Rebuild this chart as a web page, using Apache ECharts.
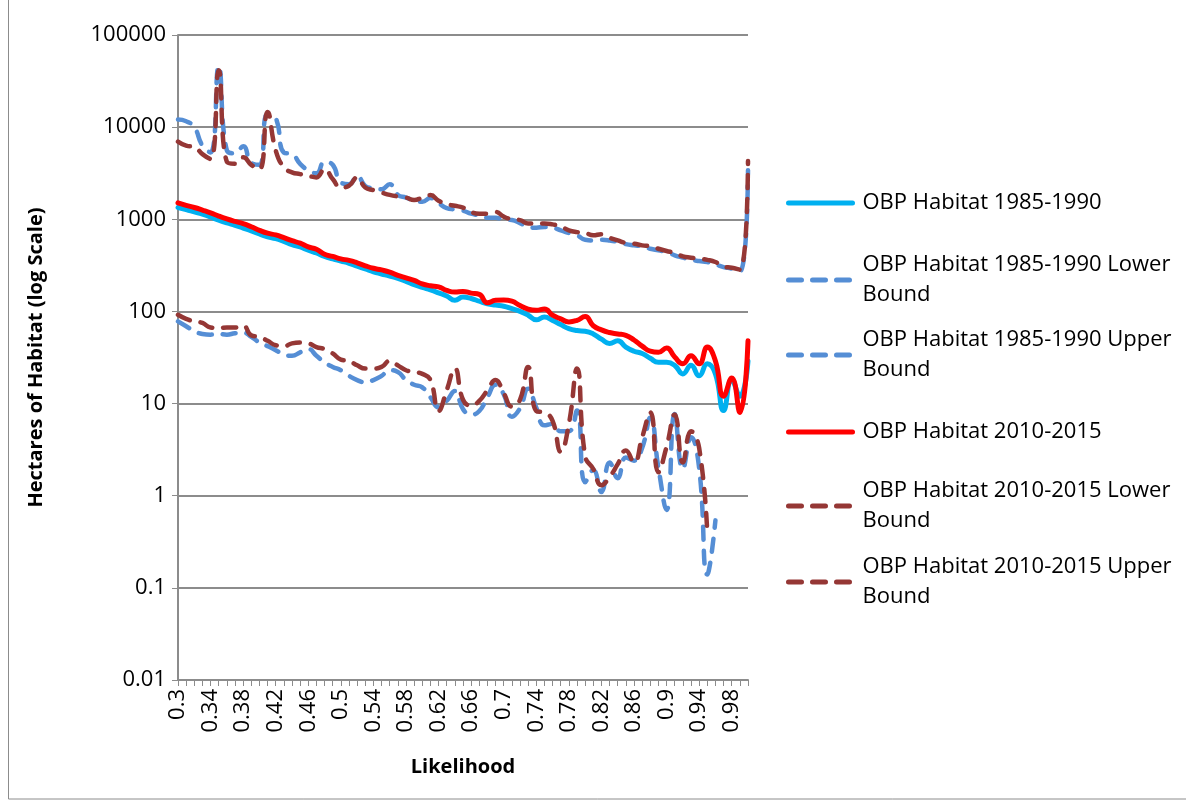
<!DOCTYPE html>
<html>
<head>
<meta charset="utf-8">
<title>OBP Habitat by Likelihood</title>
<script src="https://cdn.jsdelivr.net/npm/echarts@6/dist/echarts.min.js"></script>
<style>
  html, body { margin: 0; padding: 0; background: #ffffff; }
  #chart { width: 1186px; height: 804px; }
</style>
</head>
<body>
<div id="chart"></div>
<script>
// Likelihood classes (x axis categories)
const likelihood = [
  0.3, 0.31, 0.32, 0.33, 0.34, 0.35, 0.36, 0.37, 0.38, 0.39,
  0.4, 0.41, 0.42, 0.43, 0.44, 0.45, 0.46, 0.47, 0.48, 0.49,
  0.5, 0.51, 0.52, 0.53, 0.54, 0.55, 0.56, 0.57, 0.58, 0.59,
  0.6, 0.61, 0.62, 0.63, 0.64, 0.65, 0.66, 0.67, 0.68, 0.69,
  0.7, 0.71, 0.72, 0.73, 0.74, 0.75, 0.76, 0.77, 0.78, 0.79,
  0.8, 0.81, 0.82, 0.83, 0.84, 0.85, 0.86, 0.87, 0.88, 0.89,
  0.9, 0.91, 0.92, 0.93, 0.94, 0.95, 0.96, 0.97, 0.98, 0.99, 1
];

// Hectares of habitat, 1985-1990
const habitat1985 = [
  1343, 1274, 1202, 1135, 1059, 977, 912, 861, 804, 750,
  692, 646, 617, 575, 531, 501, 462, 431, 395, 372,
  352, 333, 310, 289, 269, 255, 242, 228, 212, 195,
  182, 171, 159, 147, 132, 143, 138, 129, 121, 117,
  114, 107, 100, 91, 81, 87, 80, 72, 65, 62,
  61, 57, 50, 45, 48, 41, 37, 35, 31, 28,
  28, 26, 21, 26, 20, 27, 21, 8.4, 18, 12, 29
];
const habitat1985Lower = [
  78, 69, 61, 57, 56, 57, 56, 58, 59, 53,
  46, 42, 38, 34, 33, 36, 39, 33, 28, 25,
  23, 20, 18, 17, 18, 20, 23, 22, 18, 16,
  15, 11.7, 9.1, 10.7, 13.7, 8.7, 7.6, 8.3, 11.7, 16,
  12.6, 7.2, 8.9, 14.5, 9, 5.8, 6, 5, 5, 8.4,
  1.4, 1.9, 1.1, 2.3, 1.55, 2.6, 2.4, 3.3, 7, 2,
  0.7, 7.7, 1.95, 4.3, 2, 0.14, 0.54, null, null, null, null
];
const habitat1985Upper = [
  12100, 11600, 10000, 6300, 5300, 46000, 5600, 5200, 6200, 4100,
  3900, 14000, 12600, 5300, 5100, 4000, 3400, 3150, 4200, 3900,
  2500, 2400, 2950, 2300, 2170, 2120, 2400, 1840, 1720, 1600,
  1550, 1700, 1500, 1320, 1280, 1240, 1150, 1100, 1040, 1040,
  995, 980, 910, 826, 810, 826, 810, 760, 710, 670,
  600, 590, 600, 590, 568, 537, 521, 509, 479, 460,
  442, 407, 383, 363, 352, 344, 324, 303, 291, 272, 3400
];

// Hectares of habitat, 2010-2015
const habitat2010 = [
  1507, 1416, 1343, 1259, 1175, 1084, 1009, 948, 897, 830,
  759, 706, 676, 631, 585, 550, 501, 472, 417, 395,
  372, 358, 337, 313, 294, 282, 267, 246, 231, 217,
  199, 190, 185, 169, 162, 165, 158, 153, 124, 132,
  133, 129, 116, 106, 103, 106, 91, 83, 77, 80,
  88, 70, 63, 59, 57, 55, 49, 42, 37, 36,
  40, 32, 27, 33, 27, 41, 29, 12, 19, 8, 48
];
const habitat2010Lower = [
  92, 83, 78, 75, 67, 66, 67, 67, 70, 55,
  53, 48, 43, 42, 45, 46, 45, 41, 39, 35,
  30, 29, 26, 24, 24, 25, 29, 26, 23, 22,
  21, 18, 8.3, 14, 24, 11, 9.5, 10.7, 14, 18,
  13, 9.3, 11, 25, 8.3, 8, 6.5, 3, 6, 24,
  2.7, 1.95, 1.3, 1.6, 2.2, 3.1, 2.3, 4.3, 8, 1.8,
  3.4, 7.6, 2.3, 5, 3.3, 0.39, null, null, null, null, null
];
const habitat2010Upper = [
  6980, 6300, 6100, 5100, 4500, 41500, 4200, 4000, 4700, 3900,
  3500, 14600, 5600, 3660, 3230, 3090, 2960, 2850, 3510, 2730,
  2210, 2310, 2850, 2210, 2070, 1950, 1840, 1770, 1720, 1620,
  1720, 1830, 1590, 1460, 1400, 1340, 1200, 1150, 1150, 1200,
  1070, 1000, 980, 900, 900, 900, 880, 840, 760, 725,
  710, 670, 690, 630, 590, 553, 543, 521, 509, 479,
  453, 431, 396, 383, 373, 363, 344, 308, 298, 284, 4300
];

// Value axis tick labels, one per decade from 0.01 up
const yTickLabels = ['0.01', '0.1', '1', '10', '100', '1000', '10000', '100000'];

const seriesNames = [
  'OBP Habitat 1985-1990',
  'OBP Habitat 1985-1990 Lower\nBound',
  'OBP Habitat 1985-1990 Upper\nBound',
  'OBP Habitat 2010-2015',
  'OBP Habitat 2010-2015 Lower\nBound',
  'OBP Habitat 2010-2015 Upper\nBound'
];

const FONT = 'Open Sans';
const GRID_COLOR = '#8c8c8c';
const DASH = [13, 11];

function lineSeries(name, data, color, dashed, z) {
  return {
    name: name,
    type: 'line',
    data: data,
    smooth: true,
    symbol: 'none',
    connectNulls: false,
    z: z,
    itemStyle: { color: color },
    lineStyle: {
      color: color,
      width: dashed ? 4.5 : 5,
      type: dashed ? DASH : 'solid',
      cap: 'round',
      join: 'round'
    }
  };
}

// One legend block per entry so each sits at its own row
const legendRows = [
  { name: seriesNames[0], cy: 203, color: '#00B0F0', dashed: false, lines: 1 },
  { name: seriesNames[1], cy: 280, color: '#558ED5', dashed: true, lines: 2 },
  { name: seriesNames[2], cy: 355, color: '#558ED5', dashed: true, lines: 2 },
  { name: seriesNames[3], cy: 432, color: '#FF0000', dashed: false, lines: 1 },
  { name: seriesNames[4], cy: 506, color: '#953735', dashed: true, lines: 2 },
  { name: seriesNames[5], cy: 582, color: '#953735', dashed: true, lines: 2 }
];

const legends = legendRows.map(function (r) {
  return {
    data: [r.name],
    orient: 'vertical',
    left: 786,
    top: r.lines === 1 ? r.cy - 15 : r.cy - 45,
    padding: 0,
    itemWidth: 64,
    itemHeight: 14,
    selectedMode: false,
    itemStyle: { opacity: 0 },
    lineStyle: {
      color: r.color,
      width: 5,
      type: r.dashed ? DASH : 'solid',
      cap: 'round',
      opacity: 1
    },
    textStyle: {
      fontFamily: FONT,
      fontSize: 22,
      color: '#000000',
      lineHeight: 30,
      padding: r.lines === 1 ? [0, 0, 0, 5] : [30, 0, 0, 5]
    }
  };
});

const chart = echarts.init(document.getElementById('chart'), null, { renderer: 'canvas' });

chart.setOption({
  backgroundColor: '#ffffff',
  animation: false,
  graphic: [{
    type: 'rect',
    shape: { x: 8.5, y: -2, width: 1200, height: 801 },
    style: { fill: 'none', stroke: '#8c8c8c', lineWidth: 1 },
    silent: true,
    z: -10
  }],
  legend: legends,
  grid: { left: 178, top: 35, width: 570, height: 645, containLabel: false },
  xAxis: {
    type: 'category',
    data: likelihood,
    boundaryGap: false,
    name: 'Likelihood',
    nameLocation: 'middle',
    nameGap: 77,
    nameTextStyle: { fontFamily: FONT, fontSize: 20, fontWeight: 'bold', color: '#000000' },
    axisLine: { show: true, lineStyle: { color: GRID_COLOR, width: 2 } },
    axisTick: { show: true, interval: 0, length: 6, lineStyle: { color: GRID_COLOR, width: 1 } },
    axisLabel: {
      interval: 3,
      rotate: 90,
      margin: 9,
      fontFamily: FONT,
      fontSize: 22,
      color: '#000000',
      formatter: function (v) { return String(v); }
    },
    splitLine: { show: false }
  },
  yAxis: {
    type: 'log',
    logBase: 10,
    min: 0.01,
    max: 100000,
    splitNumber: 7,
    name: 'Hectares of Habitat (log Scale)',
    nameLocation: 'middle',
    nameGap: 132,
    nameTextStyle: { fontFamily: FONT, fontSize: 20, fontWeight: 'bold', color: '#000000' },
    axisLine: { show: true, lineStyle: { color: GRID_COLOR, width: 2 } },
    axisTick: { show: true, length: 6, lineStyle: { color: GRID_COLOR, width: 1 } },
    axisLabel: {
      margin: 12,
      fontFamily: FONT,
      fontSize: 22,
      color: '#000000',
      formatter: function (v) {
        return yTickLabels[Math.round(Math.log10(v)) + 2];
      }
    },
    splitLine: { show: true, lineStyle: { color: GRID_COLOR, width: 2 } }
  },
  series: [
    lineSeries(seriesNames[0], habitat1985, '#00B0F0', false, 3),
    lineSeries(seriesNames[1], habitat1985Lower, '#558ED5', true, 2),
    lineSeries(seriesNames[2], habitat1985Upper, '#558ED5', true, 2),
    lineSeries(seriesNames[3], habitat2010, '#FF0000', false, 4),
    lineSeries(seriesNames[4], habitat2010Lower, '#953735', true, 3),
    lineSeries(seriesNames[5], habitat2010Upper, '#953735', true, 3)
  ]
});
</script>
</body>
</html>
